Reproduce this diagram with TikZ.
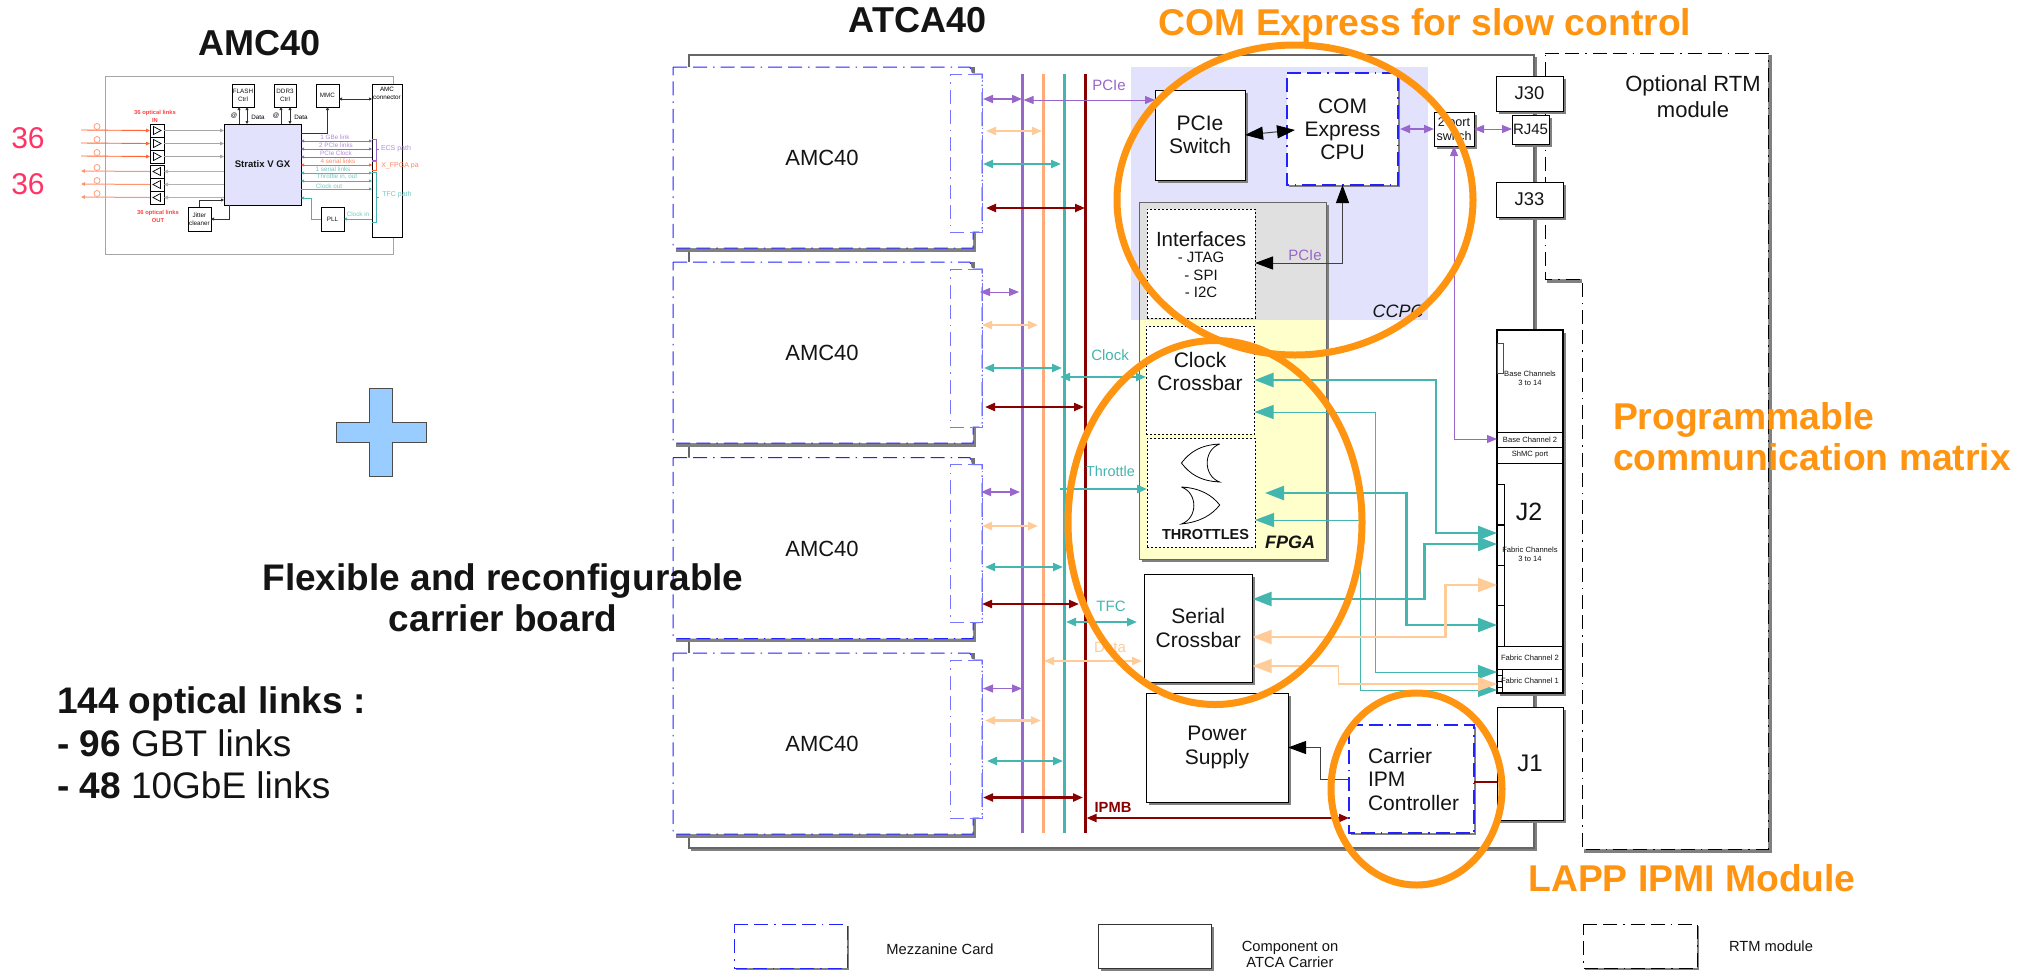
\documentclass[tikz,border=0pt]{standalone}
\usepackage{fontspec}
\setmainfont{Liberation Sans}
\usetikzlibrary{arrows.meta,shadows,calc}
\definecolor{cpur}{HTML}{9966CC}
\definecolor{cora}{HTML}{FFAA77}
\definecolor{clig}{HTML}{FFCC99}
\definecolor{ctea}{HTML}{44B6B0}
\definecolor{cred}{HTML}{880000}
\definecolor{chot}{HTML}{FF6633}
\definecolor{cell}{HTML}{FF9410}
\definecolor{clav}{HTML}{E2E2FC}
\definecolor{cgry}{HTML}{E0E0E0}
\definecolor{cyel}{HTML}{FFFFCC}
\definecolor{cpnk}{HTML}{FF3366}
\definecolor{cblu}{HTML}{2222FF}
\definecolor{cbll}{HTML}{7777FF}
\definecolor{cplus}{HTML}{99CCFF}
\newcommand{\sz}[2]{\fontsize{#1}{#2}\selectfont}
\newcommand{\bx}[7]{%
  \pgfmathsetmacro\bxcx{(#2+#4)/2}\pgfmathsetmacro\bxcy{(#3+#5)/2}%
  \pgfmathsetmacro\bxw{#4-#2}\pgfmathsetmacro\bxh{#5-#3}%
  \node[#6,minimum width=\bxw pt,minimum height=\bxh pt] (#1) at (\bxcx,\bxcy) {#7};}
\newcommand{\card}[2]{%
  \begin{scope}[shift={(0,#2)}]
    \fill[black!50] (676,100)--(976,100)--(976,184.5)--(676,184.5)--cycle;
    \fill[black!55] (971,0)--(975,0)--(975,6)--(971,6)--cycle;
    \draw[mezz,fill=white] (673,0)--(970,0)--(972,7)--(982,7)--(982,165)--(973,165)--(973,181)--(673,181)--cycle;
    \draw[mezl] (982,7)--(950,7)--(950,165)--(973,165)--(982,165)--(982,7);
    \node[txt,font=\sz{22}{24}] (#1) at (822,91) {AMC40};
  \end{scope}}
\newcommand{\lnk}[5]{% style name x1 y x2
  \coordinate (#2a) at (#3,#4);\coordinate (#2b) at (#5,#4);\draw[#1] (#2a)--(#2b);}
\tikzset{
  txt/.style={inner sep=0pt,outer sep=0pt,align=center,text=black!92},
  plain/.style={draw=black,fill=white,line width=1pt,inner sep=0pt,outer sep=0pt,align=center,text=black!92},
  shbox/.style={plain,general shadow={shadow xshift=2.5pt,shadow yshift=-2.5pt,fill=black!50}},
  tiny/.style={plain,line width=.8pt,font=\sz{6.3}{8}},
  tshad/.style={tiny,general shadow={shadow xshift=1.2pt,shadow yshift=-1.2pt,fill=black!45}},
  mezz/.style={draw=cblu,line width=1pt,dash pattern=on 14pt off 6pt on 14pt off 6pt on 1.5pt off 6pt},
  mezl/.style={draw=cbll,line width=1pt,dash pattern=on 14pt off 6pt on 14pt off 6pt on 1.5pt off 6pt},
  rtml/.style={draw=black,line width=1pt,dash pattern=on 14pt off 6pt on 14pt off 6pt on 1.5pt off 6pt},
  dots/.style={draw=black,fill=white,line width=.9pt,dash pattern=on 2pt off 2pt,inner sep=0pt,outer sep=0pt,align=center,text=black!92},
  hh/.style={{Triangle[length=10pt,width=8pt]}-{Triangle[length=10pt,width=8pt]}},
  pth/.style={hh,draw=cpur,fill=cpur,line width=1pt},
  pmd/.style={hh,draw=cpur,fill=cpur,line width=1.8pt},
  oth/.style={hh,draw=clig,fill=clig,line width=2.2pt},
  tth/.style={hh,draw=ctea,fill=ctea,line width=2.2pt},
  rth/.style={hh,draw=cred,fill=cred,line width=2.2pt},
  bigb/.style={{Triangle[length=19pt,width=14pt]}-{Triangle[length=19pt,width=14pt]}},
  tbk/.style={bigb,draw=ctea,line width=2.4pt},
  tnn/.style={bigb,draw=ctea,line width=1pt},
  obk/.style={bigb,draw=clig,line width=2.4pt},
  onn/.style={bigb,draw=clig,line width=1.2pt},
  blk/.style={draw=black!75,line width=1pt},
  kk/.style={{Triangle[length=18pt,width=13pt,color=black]}-{Triangle[length=18pt,width=13pt,color=black]}},
  kr/.style={-{Triangle[length=18pt,width=13pt,color=black]}},
  bus/.style={inner sep=0pt,outer sep=0pt},
  ring/.style={draw=cell,line width=7pt},
  ora/.style={inner sep=0pt,outer sep=0pt,text=cell,font=\bfseries\sz{37.3}{41},align=left},
  lab/.style={inner sep=0pt,outer sep=0pt,font=\sz{15}{17}},
  sl/.style={inner sep=0pt,outer sep=0pt,font=\sz{6.3}{8},align=center},
  sa/.style={line width=.9pt,{Triangle[length=3pt,width=3pt]}-{Triangle[length=3pt,width=3pt]}},
  sr/.style={line width=.9pt,-{Triangle[length=3pt,width=3pt]}},
  sk/.style={line width=.8pt,draw=black!80},
  drv/.style={plain,line width=.9pt,general shadow={shadow xshift=1pt,shadow yshift=-1pt,fill=black!40}},
}
\begin{document}
\begin{tikzpicture}[x=1pt,y=-1pt]
\useasboundingbox (0,0) rectangle (2018,970);
\fill[white] (0,0) rectangle (2018,970);
% ---- titles
\node[txt,font=\bfseries\sz{36}{38}] (t1) at (260,43) {AMC40};
\node[txt,font=\bfseries\sz{36}{38}] (t2) at (917.5,20) {ATCA40};
% ---- small AMC40 board
\bx{amcf}{105}{76}{393}{254}{plain,draw=black!35,line width=1pt,general shadow={shadow xshift=1.2pt,shadow yshift=-1.2pt,fill=black!35}}{}
\bx{flash}{232}{84}{254}{107}{tshad}{FLASH\\Ctrl}
\bx{ddr}{274}{84}{296}{107}{tshad}{DDR3\\Ctrl}
\bx{mmc}{316}{84}{339}{107}{tshad}{MMC}
\bx{amcc}{372}{84}{402}{237}{tshad}{}
\node[sl] (amcct) at (387,93) {AMC\\connector};
\bx{strat}{224}{124}{301}{205}{plain,fill=clav,general shadow={shadow xshift=1.2pt,shadow yshift=-1.2pt,fill=black!45},font=\bfseries\sz{9.6}{11}}{Stratix V GX}
\bx{jit}{188}{207}{211}{231}{tshad}{Jitter\\cleaner}
\bx{pll}{321}{207}{344}{231}{tshad}{PLL}
% drivers
\bx{i1}{150}{124}{164}{137}{drv}{}
\bx{i2}{150}{137}{164}{150}{drv}{}
\bx{i3}{150}{150}{164}{163}{drv}{}
\bx{o1}{150}{165}{164}{178}{drv}{}
\bx{o2}{150}{178}{164}{191}{drv}{}
\bx{o3}{150}{191}{164}{204}{drv}{}
\foreach \n in {i1,i2,i3}{\draw[black,line width=.7pt] ([shift={(-3.5pt,4pt)}]\n.center)--([shift={(4pt,0pt)}]\n.center)--([shift={(-3.5pt,-4pt)}]\n.center)--cycle;}
\foreach \n in {o1,o2,o3}{\draw[black,line width=.7pt] ([shift={(3.5pt,4pt)}]\n.center)--([shift={(-4pt,0pt)}]\n.center)--([shift={(3.5pt,-4pt)}]\n.center)--cycle;}
% optical lines
\foreach \n/\yy/\u in {a/130/i1,b/143/i2,c/156/i3}{
  \coordinate (f\n) at (81,\yy);
  \draw[chot,line width=.9pt,-{Triangle[length=4pt,width=3.5pt]}] (f\n)--(\u.west);
  \draw[chot!70,line width=.7pt] (97,\yy-3.5) circle (3);
  \draw[black!35,line width=.9pt,-{Triangle[length=4pt,width=3.5pt]}] (\u.east)--(strat.west |- \u.east);}
\foreach \n/\yy/\u in {d/171/o1,e/184/o2,g/197/o3}{
  \coordinate (f\n) at (81,\yy);
  \draw[chot!70,line width=1pt,-{Triangle[length=4pt,width=3.5pt]}] (\u.west)--(f\n);
  \draw[chot!70,line width=.7pt] (97,\yy-3.5) circle (3);
  \draw[black!30,line width=.9pt,-{Triangle[length=4pt,width=3.5pt]}] (strat.west |- \u.east)--(\u.east);}
\node[sl,text=red!75,font=\bfseries\sz{5.8}{8}] (in) at (155,116) {36 optical links\\IN};
\node[sl,text=red!75,font=\bfseries\sz{5.8}{8}] (out) at (158,216) {36 optical links\\OUT};
\node[txt,text=cpnk,font=\sz{30}{32}] (n36a) at (28,138) {36};
\node[txt,text=cpnk,font=\sz{30}{32}] (n36b) at (28,184) {36};
% memory arrows
\draw[sk,sr] (239,124)--(239,107);
\draw[sk,sa] (247,124)--(247,107);
\draw[sk,sr] (281,124)--(281,107);
\draw[sk,sa] (290,124)--(290,107);
\node[sl] (m1) at (234,116) {@};
\node[sl] (d1) at (258,117) {Data};
\node[sl] (m2) at (276,116) {@};
\node[sl] (d2) at (301,117) {Data};
\draw[sk,sr] (strat.east |- 0,133)-|(mmc.south);
\draw[sk,sa] (mmc.east |- 0,99)--(amcc.west |- 0,99);
\draw[sk,sr] (229,205)|-(jit.east |- 0,219);
\draw[sk,sr] (jit.north)|-(strat.west |- 0,200);
% signal lines small board
\foreach \yy/\cc/\tl/\tx in {141/cpur/1 GBe link/335,149/cpur/2 PCIe links/336,165/chot/4 serial links/338,173/ctea/1 serial links/333,181/ctea/{Throttle in, out}/337}{
  \draw[sa,draw=\cc] (strat.east |- 0,\yy)--(amcc.west |- 0,\yy);
  \node[sl,text=\cc!75] at (\tx,\yy-4) {\tl};}
\draw[sr,draw=cpur] (amcc.west |- 0,157)--(strat.east |- 0,157);
\node[sl,text=cpur!75] (pck) at (336,153.5) {PCIe Clock};
\draw[sr,draw=ctea] (strat.east |- 0,189)--(amcc.west |- 0,189);
\node[sl,text=ctea!75] (cko) at (329,186) {Clock out};
\draw[sr,draw=ctea] (pll.west |- 0,219)-|(311,198)--(strat.east |- 0,198);
\draw[sr,draw=ctea] (amcc.west |- 0,219)--(pll.east |- 0,219);
\node[sl,text=ctea!75] (cki) at (358,214) {Clock in};
\draw[cpur,line width=.7pt] (372,139)-|(376,160)--(372,160) (376,149)--(379,149);
\draw[chot,line width=.7pt] (372,161)-|(376,170)--(372,170);
\draw[ctea,line width=.7pt] (372,172)-|(376,222)--(372,222) (376,197)--(379,197);
\node[txt,text=cpur!75,font=\sz{7}{8}] (ecs) at (396,149) {ECS path};
\node[txt,text=chot!80,font=\sz{7}{8}] (xf) at (400,166) {X\_FPGA pa};
\node[txt,text=ctea!75,font=\sz{7}{8}] (tfcp) at (397,195) {TFC path};
% ---- plus and left text
\draw[draw=black!70,line width=.8pt,fill=cplus] (369.5,388)--(392.7,388)--(392.7,422)--(426,422)--(426,442)--(392.7,442)--(392.7,476)--(369.5,476)--(369.5,442)--(336,442)--(336,422)--(369.5,422)--cycle;
\node[txt,anchor=west,align=left,font=\sz{37}{42.5}] (l144) at (57,743) {\textbf{144 optical links :}\\\textbf{- 96} GBT links\\\textbf{- 48} 10GbE links};
% ---- RTM module
\draw[draw=black!50,line width=1.5pt,fill=black!50] (1548,56)--(1771,56)--(1771,852)--(1585,852)--(1585,282)--(1548,282)--cycle;
\draw[rtml,fill=white] (1545,53)--(1768,53)--(1768,849)--(1582,849)--(1582,279)--(1545,279)--cycle;
\node[txt,font=\sz{22}{26}] (rtmt) at (1693,97) {Optional RTM\\module};
% ---- ATCA frame
\bx{atca}{689}{55}{1534}{848}{plain,fill=none,draw=black!60,line width=1.4pt}{}
\draw[black!50,line width=2pt] (1536,57)--(1536,850)--(691,850);
% ---- CCPC, FPGA backgrounds
\bx{ccpc}{1131}{67}{1428}{320}{bus,fill=clav}{}
\bx{fpga}{1139}{202}{1326}{559}{shbox,fill=cyel,draw=black!60}{}
\bx{fgry}{1139}{202}{1326}{320}{bus,fill=cgry}{}
\draw[black!60,line width=1pt] (fpga.north west)--(fpga.north east)--(fpga.south east)--(fpga.south west)--cycle;
\node[txt,font=\itshape\sz{18}{20}] (ccpct) at (1398,311) {CCPC};
\node[txt,font=\bfseries\itshape\sz{18}{20}] (fpgat) at (1290,542) {FPGA};
% ---- cards
\card{amca}{67}
\card{amcb}{262}
\card{amcd}{457.7}
\card{amce}{653}
\node[txt,font=\bfseries\sz{37}{41}] (flex) at (503,598) {Flexible and reconfigurable\\carrier board};
% ---- buses
\bx{busP}{1020.5}{74}{1023.5}{833}{bus,fill=cpur}{}
\bx{busO}{1041.5}{74}{1044.5}{833}{bus,fill=cora}{}
\bx{busT}{1062.5}{74}{1065.5}{833}{bus,fill=ctea}{}
\bx{busR}{1083.5}{74}{1086.5}{833}{bus,fill=cred}{}
% ---- main boxes
\bx{pcie}{1155}{90}{1245}{180}{shbox,font=\sz{21}{23.5}}{PCIe\\Switch}
\bx{com}{1287}{73}{1398}{185}{plain,draw=none,general shadow={shadow xshift=2pt,shadow yshift=-2pt,fill=black!50},font=\sz{21}{23}}{COM\\Express\\CPU}
\draw[mezz,line width=1.2pt] (com.north west)--(com.north east)--(com.south east)--(com.south west)--cycle;
\bx{ifc}{1147}{209}{1255}{318}{dots}{}
\node[txt,font=\sz{20.5}{22}] (ifct) at (1201,239) {Interfaces};
\node[txt,font=\sz{15}{17.5}] (ifcs) at (1201,275) {- JTAG\\- SPI\\- I2C};
\bx{clk}{1146}{326}{1254.5}{434}{dots}{}
\node[txt,font=\sz{21}{23.5}] (clkt) at (1200,371.5) {Clock\\Crossbar};
\bx{thr}{1147}{438}{1255}{547}{dots}{}
\draw[black,line width=.8pt] (1219.7,444) .. controls (1200,445) and (1190,452) .. (1181.4,463) .. controls (1190,474) and (1200,481) .. (1219.7,482) .. controls (1203,476) and (1203,450) .. (1219.7,444);
\draw[black,line width=.8pt] (1181.4,487) .. controls (1200,488) and (1212,495) .. (1219.7,505) .. controls (1212,515) and (1200,522) .. (1181.4,524) .. controls (1198,518) and (1198,493) .. (1181.4,487);
\node[txt,font=\bfseries\sz{14.5}{16}] (thrt) at (1205.5,534) {THROTTLES};
\bx{ser}{1144}{574}{1252.6}{682}{shbox,font=\sz{21}{23.5}}{Serial\\Crossbar}
\bx{pow}{1146}{693}{1288}{802}{shbox,font=\sz{21}{23.5}}{Power\\Supply}
\bx{ipm}{1349}{725}{1474}{833}{plain,draw=none,general shadow={shadow xshift=2pt,shadow yshift=-2pt,fill=black!50}}{}
\draw[mezz,line width=1.2pt] (ipm.north west)--(ipm.north east)--(ipm.south east)--(ipm.south west)--cycle;
\node[txt,anchor=west,align=left,font=\sz{21}{23.5}] (ipmt) at (1368,779) {Carrier\\IPM\\Controller};
\bx{sw}{1434}{112}{1474}{146}{shbox,font=\sz{12.6}{14.5}}{2 port\\switch}
\bx{j30}{1496}{76}{1563}{111}{shbox,font=\sz{18.4}{20}}{J30}
\bx{rj}{1512}{115}{1549}{144}{shbox,font=\sz{15}{17}}{RJ45}
\bx{j33}{1496}{182}{1563}{217}{shbox,font=\sz{18.4}{20}}{J33}
\bx{j1}{1497}{707}{1563}{820}{shbox,font=\sz{24}{26}}{J1}
% J2 block
\bx{jb}{1497}{330}{1563}{693}{shbox,line width=1.2pt}{}
\draw[black,line width=1pt] (1497,432)--(1563,432) (1497,447)--(1563,447) (1497,463)--(1563,463) (1497,646)--(1563,646) (1497,669)--(1563,669);
\draw[black!70,line width=1pt,fill=white] (1497.5,343.5) rectangle (1503,373);
\foreach \a/\b in {484/524,525/565,565/605,605/646}{\draw[black,line width=.9pt] (1497,\a) rectangle (1504.5,\b);}
\foreach \a/\b in {669/675,675/681,681/687,687/693}{\draw[black,line width=.9pt] (1497,\a) rectangle (1502.5,\b);}
\node[txt,font=\sz{7.6}{9}] (bc) at (1530,378) {Base Channels\\3 to 14};
\node[txt,font=\sz{7.6}{9}] (b2) at (1530,439.5) {Base Channel 2};
\node[txt,font=\sz{7.6}{9}] (shm) at (1530,455) {ShMC port};
\node[txt,font=\sz{7.6}{9}] (fcs) at (1530,554.5) {Fabric Channels\\3 to 14};
\node[txt,font=\sz{7.6}{9}] (fc2) at (1530,657.5) {Fabric Channel 2};
\node[txt,font=\sz{7.6}{9}] (fc1) at (1530,681) {Fabric Channel 1};
\node[txt,font=\sz{25}{27}] (j2t) at (1529,512) {J2};
% ---- bus arrows
\lnk{pmd}{pa}{983}{99}{1022}
\lnk{oth}{oa}{986}{131}{1042}
\lnk{tth}{ta}{983}{164}{1061}
\lnk{rth}{ra}{986}{208}{1085}
\lnk{pth}{pb}{980}{292}{1019}
\lnk{oth}{ob}{982}{325}{1038}
\lnk{tth}{tb}{984}{368}{1062}
\lnk{rth}{rb}{985}{407}{1084}
\lnk{pmd}{pc}{981}{492}{1020}
\lnk{oth}{oc}{982}{526}{1038}
\lnk{tth}{tc}{985}{567}{1063}
\lnk{rth}{rc}{982}{604}{1079}
\lnk{pth}{pd}{983}{688.5}{1022}
\lnk{oth}{od}{985}{720.5}{1041}
\lnk{tth}{td}{987}{761}{1063}
\lnk{rth}{rd}{983}{797.5}{1083}
\draw[pth] (busP.east |- 0,100)--(pcie.west |- 0,100);
\node[lab,text=cpur] (pl1) at (1109,85) {PCIe};
\coordinate (kc) at (1060,377);\draw[tth] (kc)--(clk.west |- kc);
\node[lab,text=ctea] (kl) at (1110,355) {Clock};
\coordinate (tc0) at (1060,489);\draw[draw=ctea,line width=2.2pt,-{Triangle[length=10pt,width=8pt]}] (tc0)--(thr.west |- tc0);
\node[lab,text=ctea,font=\sz{14.4}{16}] (thl) at (1110.5,471) {Throttle};
\coordinate (sc0) at (1066,622);\coordinate (sc1) at (1137,622);\draw[tth] (sc0)--(sc1);
\node[lab,text=ctea] (tfl) at (1111,606) {TFC};
\coordinate (dc0) at (1044,661);\coordinate (dc1) at (1142,661);\draw[oth] (dc0)--(dc1);
\node[lab,text=clig] (dal) at (1110,647) {Data};
\node[txt,text=cred,font=\bfseries\sz{14.7}{16}] (ipl) at (1113,807) {IPMB};
\draw[draw=cred,line width=2pt,hh] (busR.east |- 0,818)--(ipm.west |- 0,818);
% ---- black arrows
\draw[blk,kk] (pcie.east)--(1295,130);
\draw[blk,kk] (ifc.east |- 0,263)-|(com.south);
\node[lab,text=cpur] (pl2) at (1305,255) {PCIe};
\draw[blk,kr] (ipm.west |- 0,779)-|(1320,747.5)--(pow.east |- 0,747.5);
\draw[cred,line width=2.2pt] (ipm.east |- 0,782)--(j1.west |- 0,782);
% ---- purple right
\draw[pmd] (1400,129)--(sw.west |- 0,129);
\draw[pth] (sw.east |- 0,129)--(rj.west |- 0,129);
\draw[draw=cpur,line width=1pt,hh] (sw.south)|-(jb.west |- 0,439);
% ---- teal & orange to J2
\draw[tbk] (clk.east |- 0,380)-|(1436,533)--(jb.west |- 0,533);
\draw[tnn] (clk.east |- 0,412)-|(1375,672)--(jb.west |- 0,672);
\draw[tbk] (1265,493)-|(1406.5,625)--(jb.west |- 0,625);
\draw[tnn] (thr.east |- 0,520)-|(1360.5,690)--(jb.west |- 0,690);
\draw[tbk] (ser.east |- 0,599)-|(1424.5,544)--(jb.west |- 0,544);
\draw[obk] (ser.east |- 0,637)-|(1445.5,585)--(jb.west |- 0,585);
\draw[onn] (ser.east |- 0,666)-|(1338.5,684)--(jb.west |- 0,684);
% ---- legend
\bx{lg1}{734}{924}{847}{968}{plain,draw=none,general shadow={shadow xshift=2pt,shadow yshift=-2pt,fill=black!50}}{}
\draw[mezz] (lg1.north west)--(lg1.north east)--(lg1.south east)--(lg1.south west)--cycle;
\node[txt,font=\sz{14.7}{17}] (lg1t) at (940,949) {Mezzanine Card};
\bx{lg2}{1098}{924}{1211}{968}{shbox,draw=black!80}{}
\node[txt,font=\sz{14.7}{16.5}] (lg2t) at (1290,954.5) {Component on\\ATCA Carrier};
\bx{lg3}{1583}{924}{1697}{968}{plain,draw=none,general shadow={shadow xshift=2pt,shadow yshift=-2pt,fill=black!50}}{}
\draw[rtml] (lg3.north west)--(lg3.north east)--(lg3.south east)--(lg3.south west)--cycle;
\node[txt,font=\sz{14.7}{17}] (lg3t) at (1771,946) {RTM module};
% ---- orange rings
\draw[ring] (1295,200) ellipse (178 and 155);
\draw[ring] (1215,522.5) ellipse (147 and 182);
\draw[ring] (1416.5,789) ellipse (85.5 and 96);
\node[ora] (ot1) at (1425,26) {COM Express for slow control};
\node[ora,anchor=west] (ot2) at (1613,437) {Programmable\\communication matrix};
\node[ora] (ot3) at (1692,878) {LAPP IPMI Module};
\end{tikzpicture}
\end{document}
